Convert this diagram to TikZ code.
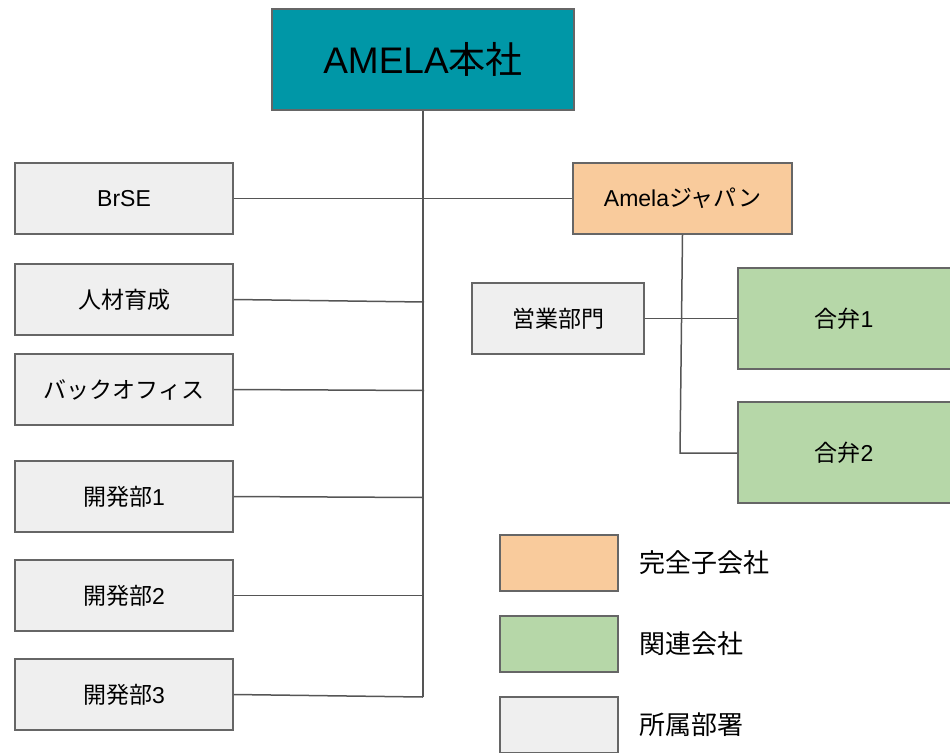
\documentclass[tikz,border=0pt]{standalone}
\usepackage{fontspec}
\setmainfont{Liberation Sans}
\newfontfamily\jp{Noto Sans CJK JP}
\definecolor{hqteal}{HTML}{0097A7}
\definecolor{suborange}{HTML}{F9CB9C}
\definecolor{jvgreen}{HTML}{B6D7A8}
\definecolor{deptgray}{HTML}{EFEFEF}
\definecolor{edgegray}{HTML}{666666}
\definecolor{linegray}{HTML}{555555}
\tikzset{
  box/.style={draw=edgegray, line width=1.5pt, rectangle, inner sep=0pt, font=\fontsize{23}{27}\selectfont, text=black},
  dept/.style={box, fill=deptgray, minimum width=218pt, minimum height=71pt},
  conn/.style={draw=linegray, line width=1.5pt},
  legendtext/.style={anchor=west, inner sep=0pt, font=\fontsize{26}{30}\selectfont\jp},
}
\begin{document}
\begin{tikzpicture}[x=1pt,y=-1pt]
\useasboundingbox (0,0) rectangle (950,752);
% nodes
\node[box, fill=hqteal, minimum width=302pt, minimum height=101pt, font=\fontsize{37}{42}\selectfont] (hq) at (423,59.5) {AMELA{\jp 本社}};
\node[dept] (brse) at (124,198.5) {BrSE};
\node[dept] (jinzai) at (124,299.5) {\jp 人材育成};
\node[dept] (back) at (124,389.5) {\jp バックオフィス};
\node[dept] (dev1) at (124,496.5) {{\jp 開発部}1};
\node[dept] (dev2) at (124,595.5) {{\jp 開発部}2};
\node[dept] (dev3) at (124,694.5) {{\jp 開発部}3};
\node[box, fill=suborange, minimum width=219pt, minimum height=71pt] (japan) at (682.5,198.5) {Amela{\jp ジャパン}};
\node[box, fill=deptgray, minimum width=172pt, minimum height=71pt] (sales) at (558,318.5) {\jp 営業部門};
\node[box, fill=jvgreen, minimum width=216pt, minimum height=101pt] (jv1) at (846,318.5) {};
\node[font=\fontsize{23}{27}\selectfont] (jv1t) at (844,318.5) {{\jp 合弁}1};
\node[box, fill=jvgreen, minimum width=216pt, minimum height=101pt] (jv2) at (846,452.5) {};
\node[font=\fontsize{23}{27}\selectfont] (jv2t) at (844,452.5) {{\jp 合弁}2};
% legend
\node[box, fill=suborange, minimum width=118pt, minimum height=56pt] (lg1) at (559,563) {};
\node[box, fill=jvgreen, minimum width=118pt, minimum height=56pt] (lg2) at (559,644) {};
\node[box, fill=deptgray, minimum width=118pt, minimum height=56pt] (lg3) at (559,725) {};
\node[legendtext] (lt1) at (639,563) {完全子会社};
\node[legendtext] (lt2) at (639,644) {関連会社};
\node[legendtext] (lt3) at (639,725) {所属部署};
% connectors
\coordinate (trunkend) at (423,697);
\coordinate (tj) at (424,302);
\coordinate (tb) at (424,390.5);
\coordinate (t1) at (423,497.5);
\coordinate (t2) at (423,595.5);
\coordinate (t3) at (423,697);
\coordinate (jbend) at (680,453);
\draw[conn] (hq.south) -- (trunkend);
\draw[conn] (brse.east) -- (japan.west);
\draw[conn] (jinzai.east) -- (tj);
\draw[conn] (back.east) -- (tb);
\draw[conn] (dev1.east) -- (t1);
\draw[conn] (dev2.east) -- (t2);
\draw[conn] (dev3.east) -- (t3);
\draw[conn] (sales.east) -- (sales.east -| jv1.west);
\draw[conn] (japan.south) -- (jbend) -- (jbend -| jv2.west);
\end{tikzpicture}
\end{document}
